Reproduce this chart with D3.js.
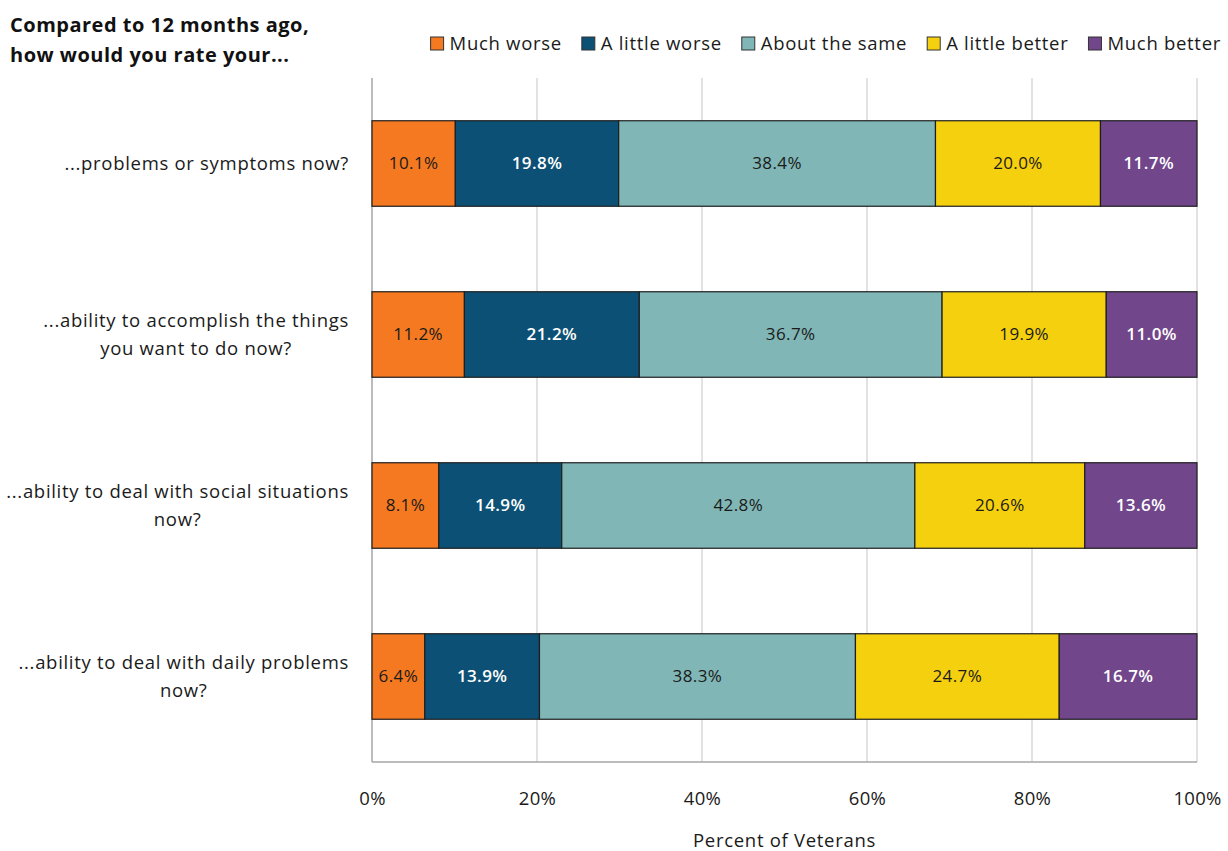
<!DOCTYPE html>
<html>
<head>
<meta charset="utf-8">
<script src="https://cdn.jsdelivr.net/npm/d3@7"></script>
<style>
  body { margin: 0; background: #fff; }
  svg { display: block; font-family: "Open Sans", Lato, sans-serif; }
</style>
</head>
<body>
<svg id="chart" width="1228" height="851"></svg>
<script>
// Survey items (each may wrap to two lines)
const categories = [
  ["...problems or symptoms now?"],
  ["...ability to accomplish the things", "you want to do now?"],
  ["...ability to deal with social situations", "now?"],
  ["...ability to deal with daily problems", "now?"]
];
const responses = ["Much worse", "A little worse", "About the same", "A little better", "Much better"];
const muchWorse     = [10.1, 11.2, 8.1, 6.4];
const littleWorse   = [19.8, 21.2, 14.9, 13.9];
const aboutSame     = [38.4, 36.7, 42.8, 38.3];
const littleBetter  = [20.0, 19.9, 20.6, 24.7];
const muchBetter    = [11.7, 11.0, 13.6, 16.7];
const tickValues = [0, 20, 40, 60, 80, 100];

const colors = ["#F47920", "#0D5075", "#80B6B5", "#F5D00F", "#71468B"];
const labelColors = ["#1a1a1a", "#ffffff", "#1a1a1a", "#1a1a1a", "#ffffff"];
const labelWeights = ["normal", "600", "normal", "normal", "600"];

const seriesValues = [muchWorse, littleWorse, aboutSame, littleBetter, muchBetter];
const rows = categories.map((c, i) => {
  const r = { idx: i };
  responses.forEach((k, j) => { r[k] = seriesValues[j][i]; });
  return r;
});

const svg = d3.select("#chart");
const margin = { left: 372, right: 31, top: 78, bottom: 89 };
const W = 1228, H = 851;
const fs = 18.5;
const ls = "0.7px";

const x = d3.scaleLinear().domain([0, 100]).range([margin.left, W - margin.right]);
const y = d3.scaleBand().domain(d3.range(categories.length))
  .range([margin.top, H - margin.bottom]).paddingInner(0.5).paddingOuter(0.25);

// Gridlines
svg.append("g").selectAll("line").data(tickValues.filter(d => d > 0)).join("line")
  .attr("x1", d => x(d)).attr("x2", d => x(d))
  .attr("y1", margin.top).attr("y2", H - margin.bottom)
  .attr("stroke", "#d9d9d9").attr("stroke-width", 1.5);

// Plot frame: left and bottom
svg.append("line").attr("x1", x(0)).attr("x2", x(0))
  .attr("y1", margin.top).attr("y2", H - margin.bottom)
  .attr("stroke", "#a6a6a6").attr("stroke-width", 1.5);
svg.append("line").attr("x1", x(0)).attr("x2", x(100))
  .attr("y1", H - margin.bottom).attr("y2", H - margin.bottom)
  .attr("stroke", "#a6a6a6").attr("stroke-width", 1.5);

// Stacked bars
const stacked = d3.stack().keys(responses)(rows);
const layers = svg.append("g").selectAll("g").data(stacked).join("g");
layers.selectAll("rect").data(d => d).join("rect")
  .attr("x", d => x(d[0]))
  .attr("width", d => x(d[1]) - x(d[0]))
  .attr("y", d => y(d.data.idx))
  .attr("height", y.bandwidth())
  .attr("fill", (d, i, n) => colors[d3.select(n[i].parentNode).datum().index])
  .attr("stroke", "#1e1e1e").attr("stroke-width", 1.2);

layers.each(function(layer) {
  const k = layer.index;
  d3.select(this).selectAll("text").data(layer).join("text")
    .attr("x", d => (x(d[0]) + x(d[1])) / 2)
    .attr("y", d => y(d.data.idx) + y.bandwidth() / 2)
    .attr("dy", "0.35em")
    .attr("text-anchor", "middle")
    .attr("font-size", 17)
    .attr("letter-spacing", "0.4px")
    .attr("font-weight", labelWeights[k])
    .attr("fill", labelColors[k])
    .text(d => (d[1] - d[0]).toFixed(1) + "%");
});

// Category labels
const catG = svg.append("g");
categories.forEach((lines, i) => {
  const cy = y(i) + y.bandwidth() / 2;
  const lh = 28;
  const t0 = cy - (lines.length - 1) * lh / 2;
  const first = catG.append("text")
    .attr("x", 349).attr("y", t0).attr("dy", "0.35em")
    .attr("text-anchor", "end").attr("font-size", fs).attr("letter-spacing", ls)
    .attr("fill", "#1a1a1a")
    .text(lines[0]);
  if (lines.length > 1) {
    const w = first.node().getComputedTextLength();
    catG.append("text")
      .attr("x", 349 - w / 2).attr("y", t0 + lh).attr("dy", "0.35em")
      .attr("text-anchor", "middle").attr("font-size", fs).attr("letter-spacing", ls)
      .attr("fill", "#1a1a1a")
      .text(lines[1]);
  }
});

// X axis
const xAxis = d3.axisBottom(x).tickValues(tickValues).tickSize(0).tickFormat(d => d + "%");
const ax = svg.append("g").attr("transform", `translate(0,${H - margin.bottom + 27})`).call(xAxis);
ax.select(".domain").remove();
ax.selectAll("text").attr("font-size", fs).attr("fill", "#1a1a1a")
  .attr("letter-spacing", "0.3px")
  .attr("font-family", "'Open Sans', Lato, sans-serif");

svg.append("text").attr("x", (x(0) + x(100)) / 2).attr("y", 841)
  .attr("dy", "0.35em").attr("text-anchor", "middle")
  .attr("font-size", fs).attr("letter-spacing", ls)
  .attr("fill", "#1a1a1a").text("Percent of Veterans");

// Title
const title = svg.append("text").attr("font-size", 20).attr("font-weight", "bold")
  .attr("letter-spacing", "0.5px").attr("fill", "#111");
title.append("tspan").attr("x", 10).attr("y", 32).text("Compared to 12 months ago,");
title.append("tspan").attr("x", 10).attr("y", 62).text("how would you rate your...");

// Legend, laid out right to left so it ends at the right edge
const legend = svg.append("g");
let lx = 1221;
const ly = 44;
const items = responses.map((r, i) => ({ r, i })).reverse();
items.forEach(({ r, i }) => {
  const t = legend.append("text").attr("y", ly).attr("dy", "0.35em")
    .attr("font-size", fs).attr("letter-spacing", ls)
    .attr("fill", "#1a1a1a").attr("text-anchor", "end")
    .attr("x", lx).text(r);
  const w = t.node().getComputedTextLength();
  const sx = lx - w - 19;
  legend.append("rect").attr("x", sx).attr("y", ly - 7).attr("width", 13).attr("height", 13)
    .attr("fill", colors[i]).attr("stroke", "#333").attr("stroke-width", 1);
  lx = sx - 20;
});
</script>
</body>
</html>
